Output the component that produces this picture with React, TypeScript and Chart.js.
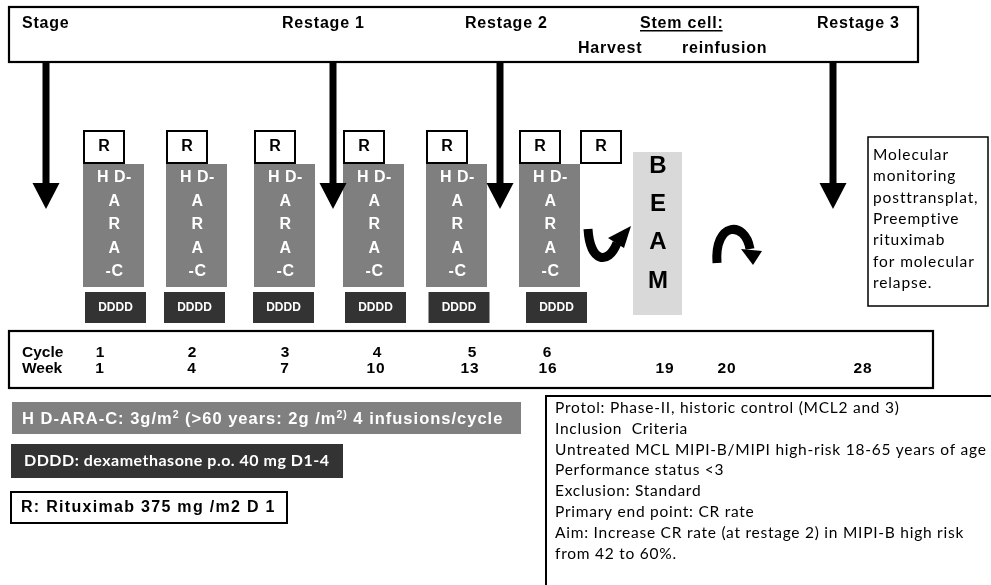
import React, { useEffect, useRef } from 'react';
import { Chart, registerables } from 'chart.js';
Chart.register(...registerables);

const W = 991;
const H = 585;
const SANS = '"Liberation Sans", Arial, sans-serif';
const CAL = 'Lato, "Open Sans", sans-serif';

// ---- content ----
const stageLabels = ['Stage', 'Restage 1', 'Restage 2', 'Restage 3'];
const stemCellTitle = 'Stem cell:';
const stemCellSteps = ['Harvest', 'reinfusion'];
const cycleNumbers = ['1', '2', '3', '4', '5', '6'];
const weekNumbers = ['1', '4', '7', '10', '13', '16', '19', '20', '28'];
const hdAraCLetters = ['H D-', 'A', 'R', 'A', '-C'];
const beamLetters = ['B', 'E', 'A', 'M'];
const rituximabLabel = 'R';
const dexLabel = 'DDDD';
const monitoringLines = ['Molecular', 'monitoring', 'posttransplat,', 'Preemptive', 'rituximab', 'for molecular', 'relapse.'];
const protocolLines = [
  'Protol: Phase-II, historic control (MCL2 and 3)',
  'Inclusion  Criteria',
  'Untreated MCL MIPI-B/MIPI high-risk 18-65 years of age',
  'Performance status <3',
  'Exclusion: Standard',
  'Primary end point: CR rate',
  'Aim: Increase CR rate (at restage 2) in MIPI-B high risk',
  'from 42 to 60%.',
];
const legendHdSegments: [string, boolean][] = [
  ['H D-ARA-C: 3g/m', false],
  ['2', true],
  [' (>60 years: 2g /m', false],
  ['2)', true],
  [' 4 infusions/cycle', false],
];
const legendDex = 'DDDD: dexamethasone p.o. 40 mg D1-4';
const legendR = 'R: Rituximab 375 mg /m2 D 1';

// ---- layout (diagram coordinates) ----
const stageX = [22, 282, 465, 817];
const stemX = 640;
const stepX = [578, 682];
const arrowX = [46, 333, 500, 833];
const rBoxLeft = [83, 166, 254, 343, 426, 519, 580];
const hdCenter = [113.5, 196.5, 284.5, 373.5, 456.5, 549.5];
const dexCenter = [115.5, 194.5, 283.5, 375.5, 459, 556.5];
const cycleX = [100, 192, 285, 377, 472, 547];
const weekX = [100, 192, 285, 376, 470, 548, 665, 727, 863];

const diagramPlugin = {
  id: 'diagram',
  beforeDatasetsDraw(chart: any) {
    const { ctx, scales } = chart;
    const X = (v: number) => scales.x.getPixelForValue(v);
    const Y = (v: number) => scales.y.getPixelForValue(v);
    const rect = (x0: number, y0: number, x1: number, y1: number, fill: string | null, stroke: string | null, lw = 2) => {
      ctx.save();
      if (fill) {
        ctx.fillStyle = fill;
        ctx.fillRect(X(x0), Y(y0), X(x1) - X(x0), Y(y1) - Y(y0));
      }
      if (stroke) {
        ctx.strokeStyle = stroke;
        ctx.lineWidth = lw;
        ctx.strokeRect(X(x0), Y(y0), X(x1) - X(x0), Y(y1) - Y(y0));
      }
      ctx.restore();
    };
    // frames
    rect(9, 7, 918, 62, '#fff', '#000', 2.2);
    rect(9, 331, 933, 388, '#fff', '#000', 2.2);
    rect(868, 137, 988, 306, '#fff', '#000', 1.5);
    rect(546, 396, 995, 595, '#fff', '#000', 2);
    // legends
    rect(12, 402, 521, 434, '#808080', null);
    rect(11, 444, 343, 478, '#333333', null);
    rect(11, 492, 287, 523, '#fff', '#000', 2);
  },
  afterDatasetsDraw(chart: any) {
    const { ctx, scales } = chart;
    const X = (v: number) => scales.x.getPixelForValue(v);
    const Y = (v: number) => scales.y.getPixelForValue(v);
    const text = (s: string, x: number, y: number, font: string, color: string, align: CanvasTextAlign = 'left', base: CanvasTextBaseline = 'alphabetic', spacing = '0px') => {
      ctx.save();
      ctx.font = font;
      ctx.fillStyle = color;
      ctx.textAlign = align;
      ctx.textBaseline = base;
      (ctx as any).letterSpacing = spacing;
      ctx.fillText(s, X(x), Y(y));
      ctx.restore();
    };

    // top header
    stageLabels.forEach((s, i) => text(s, stageX[i], 28, `bold 16px ${SANS}`, '#000', 'left', 'alphabetic', '0.8px'));
    text(stemCellTitle, stemX, 28, `bold 16px ${SANS}`, '#000', 'left', 'alphabetic', '0.8px');
    ctx.save();
    ctx.font = `bold 16px ${SANS}`;
    (ctx as any).letterSpacing = '0.8px';
    const sw = ctx.measureText(stemCellTitle).width;
    ctx.restore();
    ctx.save();
    ctx.fillStyle = '#000';
    ctx.fillRect(X(stemX), Y(30), sw - 1, 1.5);
    ctx.restore();
    stemCellSteps.forEach((s, i) => text(s, stepX[i], 53, `bold 16px ${SANS}`, '#000', 'left', 'alphabetic', '0.8px'));

    // vertical arrows
    ctx.save();
    ctx.fillStyle = '#000';
    arrowX.forEach((ax) => {
      const top = 62, headTop = 183, tip = 209;
      ctx.fillRect(X(ax) - 3.5, Y(top), 7, Y(headTop) - Y(top) + 1);
      ctx.beginPath();
      ctx.moveTo(X(ax) - 13.5, Y(headTop));
      ctx.lineTo(X(ax) + 13.5, Y(headTop));
      ctx.lineTo(X(ax), Y(tip));
      ctx.closePath();
      ctx.fill();
    });
    ctx.restore();

    // R labels
    rBoxLeft.forEach((l) => text(rituximabLabel, l + 21, 147, `bold 16px ${SANS}`, '#000', 'center', 'middle'));
    // HD-ARA-C letters
    hdCenter.forEach((c) => {
      hdAraCLetters.forEach((s, j) => text(s, c + 1, 178 + j * 23.5, `bold 16px ${SANS}`, '#fff', 'center', 'middle', '0.5px'));
    });
    // DDDD
    dexCenter.forEach((c) => text(dexLabel, c, 307.5, `bold 12px ${SANS}`, '#fff', 'center', 'middle'));
    // BEAM
    const beamY = [166, 204, 242, 281];
    beamLetters.forEach((s, i) => text(s, 658, beamY[i], `bold 24px ${SANS}`, '#000', 'center', 'middle'));

    // curved arrows
    ctx.save();
    ctx.strokeStyle = '#000';
    ctx.fillStyle = '#000';
    ctx.lineWidth = 9;
    ctx.lineCap = 'butt';
    ctx.beginPath();
    ctx.moveTo(X(588), Y(229));
    ctx.bezierCurveTo(X(590), Y(262), X(608), Y(266), X(617), Y(243));
    ctx.stroke();
    ctx.beginPath();
    ctx.moveTo(X(608), Y(238));
    ctx.lineTo(X(624), Y(248));
    ctx.lineTo(X(631), Y(226));
    ctx.closePath();
    ctx.fill();

    ctx.beginPath();
    ctx.moveTo(X(717), Y(263));
    ctx.bezierCurveTo(X(714), Y(222), X(745), Y(220), X(750), Y(249));
    ctx.stroke();
    ctx.beginPath();
    ctx.moveTo(X(741), Y(249));
    ctx.lineTo(X(762), Y(251));
    ctx.lineTo(X(753), Y(265));
    ctx.closePath();
    ctx.fill();
    ctx.restore();

    // molecular monitoring box text
    monitoringLines.forEach((s, i) => text(s, 873, 155 + i * 21.3, `15.5px ${CAL}`, '#000', 'left', 'middle', '0.9px'));

    // cycle / week
    text('Cycle', 22, 357, `bold 15.5px ${SANS}`, '#000');
    text('Week', 22, 373, `bold 15.5px ${SANS}`, '#000');
    cycleNumbers.forEach((s, i) => text(s, cycleX[i], 357, `bold 15.5px ${SANS}`, '#000', 'center'));
    weekNumbers.forEach((s, i) => text(s, weekX[i], 373, `bold 15.5px ${SANS}`, '#000', 'center', 'alphabetic', '1px'));

    // legend 1 with superscripts
    ctx.save();
    ctx.fillStyle = '#fff';
    ctx.textBaseline = 'alphabetic';
    (ctx as any).letterSpacing = '1px';
    let lx = X(22);
    const ly = Y(424);
    legendHdSegments.forEach(([s, sup]) => {
      ctx.font = sup ? `bold 10.5px ${SANS}` : `bold 16.5px ${SANS}`;
      ctx.fillText(s, lx, sup ? ly - 6 : ly);
      lx += ctx.measureText(s).width;
    });
    ctx.restore();
    text(legendDex, 24, 461, `bold 16px ${CAL}`, '#fff', 'left', 'middle', '0.5px');
    text(legendR, 21, 508, `bold 16px ${SANS}`, '#000', 'left', 'middle', '1.3px');

    // protocol box
    protocolLines.forEach((s, i) => text(s, 555, 408 + i * 20.8, `15.5px ${CAL}`, '#000', 'left', 'middle', '0.75px'));
  },
};

const barBase = { type: 'bar', grouped: false, inflateAmount: 0, borderSkipped: false };

export default function App() {
  const ref = useRef<HTMLCanvasElement | null>(null);
  useEffect(() => {
    if (!ref.current) return;
    const chart = new Chart(ref.current, {
      type: 'bar',
      data: {
        datasets: [
          {
            ...barBase,
            label: 'R',
            data: rBoxLeft.map((l) => ({ x: l + 21, y: [130, 164] })),
            barThickness: 42,
            backgroundColor: '#ffffff',
            borderColor: '#000000',
            borderWidth: 2,
          } as any,
          {
            ...barBase,
            label: 'HD-ARA-C',
            data: hdCenter.map((c) => ({ x: c, y: [164, 287] })),
            barThickness: 61,
            backgroundColor: '#7f7f7f',
            borderWidth: 0,
          } as any,
          {
            ...barBase,
            label: 'DDDD',
            data: dexCenter.map((c) => ({ x: c, y: [292, 323] })),
            barThickness: 61,
            backgroundColor: '#333333',
            borderWidth: 0,
          } as any,
          {
            ...barBase,
            label: 'BEAM',
            data: [{ x: 657.5, y: [152, 315] }],
            barThickness: 49,
            backgroundColor: '#d9d9d9',
            borderWidth: 0,
          } as any,
        ],
      },
      options: {
        animation: false,
        responsive: false,
        devicePixelRatio: 1,
        layout: { padding: 0 },
        plugins: { legend: { display: false }, tooltip: { enabled: false } },
        scales: {
          x: { type: 'linear', min: 0, max: W, display: false, offset: false },
          y: { type: 'linear', min: 0, max: H, reverse: true, display: false },
        },
      } as any,
      plugins: [diagramPlugin],
    });
    return () => chart.destroy();
  }, []);
  return (
    <div style={{ position: 'absolute', left: 0, top: 0, width: W, height: H, background: '#fff' }}>
      <canvas ref={ref} width={W} height={H} style={{ width: W, height: H, display: 'block' }} />
    </div>
  );
}
